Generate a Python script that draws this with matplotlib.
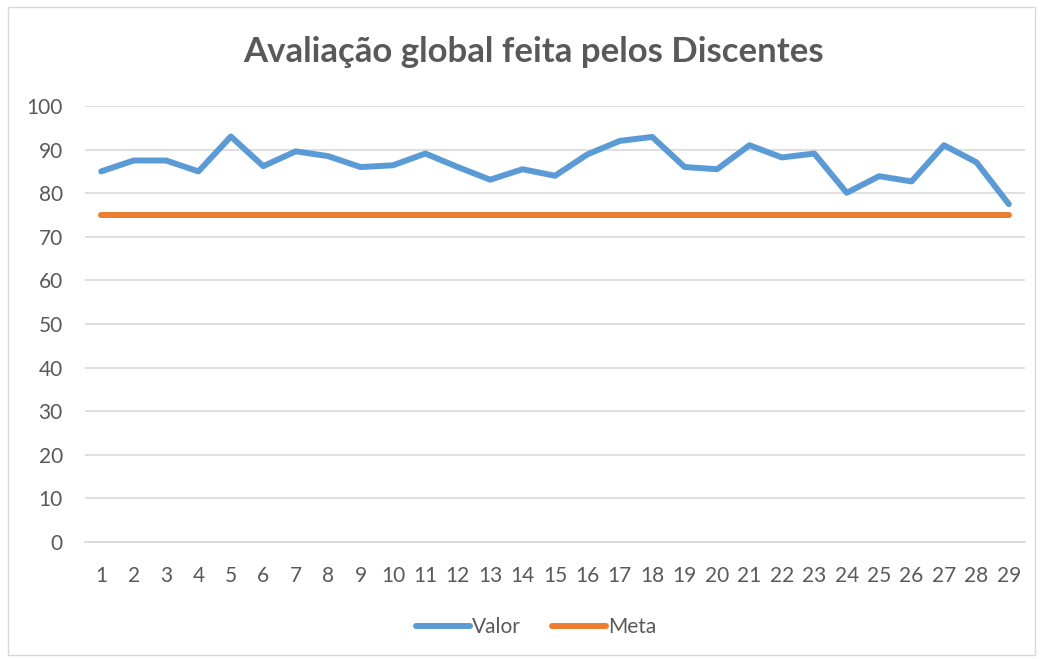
import matplotlib.pyplot as plt
from matplotlib.patches import Rectangle

plt.rcParams['font.family'] = ['Lato', 'DejaVu Sans']

categorias = list(range(1, 30))
valor = [85.0, 87.5, 87.5, 85.0, 93.0, 86.2, 89.6, 88.5, 86.0, 86.4,
         89.1, 86.0, 83.1, 85.5, 84.0, 88.9, 92.0, 92.9, 86.0, 85.5,
         91.0, 88.2, 89.1, 80.1, 83.9, 82.7, 91.0, 87.1, 77.5]
meta = [75] * 29
yticks = list(range(0, 101, 10))

fig = plt.figure(figsize=(10.43, 6.59), dpi=100)
ax = fig.add_axes([85/1043, 1 - 542/659, 940/1043, 436/659])

# chart border
fig.patches.append(Rectangle((8/1043, 4/659), 1027/1043, 648/659,
                             transform=fig.transFigure, fill=False,
                             edgecolor='#d9d9d9', linewidth=1))

ax.plot(categorias, valor, color='#5B9BD5', linewidth=4.3,
        solid_capstyle='round', solid_joinstyle='round', label='Valor')
ax.plot(categorias, meta, color='#ED7D31', linewidth=4.3,
        solid_capstyle='round', label='Meta')

ax.set_xlim(0.5, 29.5)
ax.set_ylim(0, 100)
ax.set_yticks(yticks)
ax.set_xticks(categorias)
ax.grid(axis='y', color='#d9d9d9', linewidth=1.2)
ax.set_axisbelow(True)
for s in ['top', 'right', 'left']:
    ax.spines[s].set_visible(False)
ax.spines['bottom'].set_color('#d9d9d9')
ax.spines['bottom'].set_linewidth(1.2)
ax.tick_params(axis='both', length=0, labelsize=15, labelcolor='#595959')
ax.tick_params(axis='y', pad=16)
ax.tick_params(axis='x', pad=17)

fig.text(533/1043, 1 - 52/659, 'Avaliação global feita pelos Discentes',
         ha='center', va='center', fontsize=25, fontweight='bold',
         color='#595959')

leg = fig.legend(loc='center', bbox_to_anchor=(536/1043, 1 - 627/659), ncol=2,
                 frameon=False, fontsize=15, handlelength=2.6,
                 columnspacing=1.5, handletextpad=0.1)
for t in leg.get_texts():
    t.set_color('#595959')

fig.savefig('out.png', dpi=100)
